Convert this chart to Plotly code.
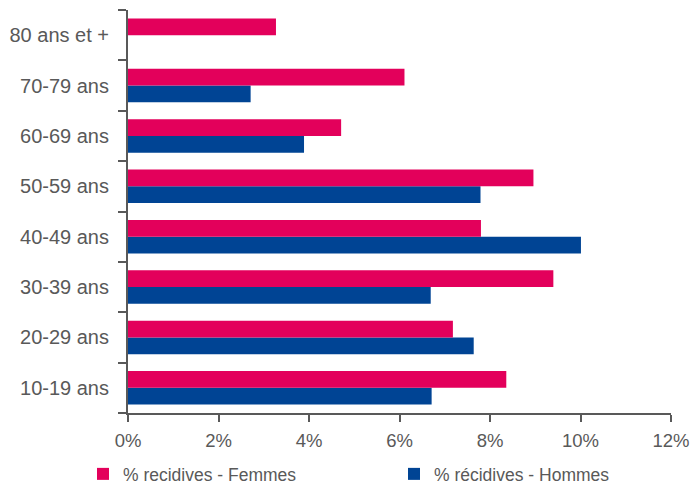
import plotly.graph_objects as go

categories = ["10-19 ans", "20-29 ans", "30-39 ans", "40-49 ans", "50-59 ans", "60-69 ans", "70-79 ans", "80 ans et +"]
femmes = [8.36, 7.18, 9.40, 7.80, 8.96, 4.71, 6.11, 3.27]
hommes = [6.71, 7.64, 6.69, 10.01, 7.79, 3.89, 2.71, None]
name_f = "% recidives - Femmes"
name_h = "% récidives - Hommes"

FONT = "Liberation Sans, Arial, sans-serif"
GREY = "#595959"

fig = go.Figure()
fig.add_trace(go.Bar(y=categories, x=hommes, orientation="h", name=name_h,
                     marker=dict(color="#004494", line=dict(width=0)), legend="legend2"))
fig.add_trace(go.Bar(y=categories, x=femmes, orientation="h", name=name_f,
                     marker=dict(color="#E3005B", line=dict(width=0)), legend="legend"))

leg_common = dict(orientation="h", xref="container", yref="container",
                  xanchor="left", y=1 - 474/485, yanchor="middle",
                  font=dict(family=FONT, size=17.5, color=GREY),
                  bgcolor="rgba(0,0,0,0)", itemclick=False, itemdoubleclick=False)

fig.update_layout(
    width=691, height=485,
    margin=dict(l=128, r=20, t=10, b=72, autoexpand=False),
    plot_bgcolor="white", paper_bgcolor="white",
    barmode="group", bargap=0.337, bargroupgap=0,
    font=dict(family=FONT, size=20, color=GREY),
    showlegend=True,
    legend=dict(x=83/691, **leg_common),
    legend2=dict(x=394/691, **leg_common),
)
fig.update_xaxes(range=[0, 12], dtick=2, tick0=0, ticksuffix="%",
                 showgrid=False, zeroline=False, automargin=False,
                 showline=True, linecolor=GREY, linewidth=2,
                 ticks="outside", ticklen=7, tickwidth=2, tickcolor=GREY,
                 ticklabelstandoff=3,
                 tickfont=dict(family=FONT, size=18.5, color=GREY))
fig.update_yaxes(type="category", showgrid=False, zeroline=False, automargin=False,
                 showline=True, linecolor=GREY, linewidth=2,
                 ticks="outside", tickson="boundaries", ticklen=8, tickwidth=2, tickcolor=GREY,
                 ticklabelstandoff=13,
                 tickfont=dict(family=FONT, size=20, color=GREY))

fig.write_html("out.html")
